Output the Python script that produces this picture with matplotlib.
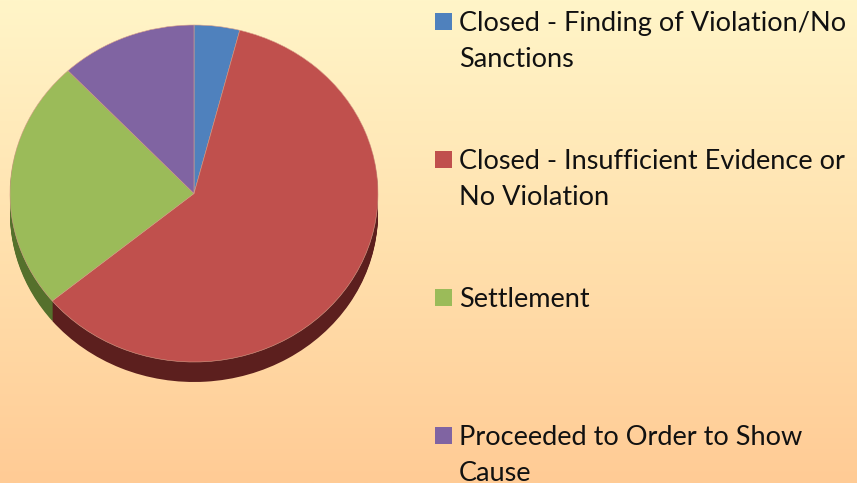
import numpy as np
import matplotlib
matplotlib.use("Agg")
from matplotlib import pyplot as plt
from matplotlib.colors import LinearSegmentedColormap
from matplotlib.patches import Rectangle

labels = [
    "Closed - Finding of Violation/No\nSanctions",
    "Closed - Insufficient Evidence or\nNo Violation",
    "Settlement",
    "Proceeded to Order to Show\nCause",
]
shares = [4, 60, 24, 12]
top_colors = ["#4F81BD", "#C0504D", "#9BBB59", "#8064A2"]
side_colors = ["#2a4566", "#5c1f1e", "#55702c", "#45325a"]

W, H = 857, 483
fig = plt.figure(figsize=(W / 100, H / 100), dpi=100)

# background gradient
bg = fig.add_axes([0, 0, 1, 1])
bg.set_axis_off()
cmap = LinearSegmentedColormap.from_list("bg", ["#FFF5C8", "#FFE1AE", "#FFCB95"])
grad = np.linspace(0, 1, 256).reshape(-1, 1)
bg.imshow(grad, cmap=cmap, aspect="auto", extent=[0, 1, 0, 1], origin="upper")
bg.set_xlim(0, 1)
bg.set_ylim(0, 1)

# pie geometry (pixels)
px_left, px_width = 10, 368
face_top, face_h = 25, 337
depth = 20
semi_y = face_h / 2
ax = fig.add_axes([px_left / W, (H - face_top - face_h - depth) / H,
                   px_width / W, (face_h + depth) / H])

# side wall: stacked darker pies
for k in range(depth, 0, -1):
    ax.pie(shares, colors=side_colors, startangle=90, counterclock=False,
           center=(0, -k / semi_y), radius=1,
           wedgeprops=dict(linewidth=0, antialiased=True))
ax.pie(shares, colors=top_colors, startangle=90, counterclock=False,
       center=(0, 0), radius=1, wedgeprops=dict(linewidth=0.4, edgecolor="#d9a08a"))
ax.set_aspect("auto")
ax.set_xlim(-1, 1)
ax.set_ylim(-1 - depth / semi_y, 1)
ax.set_axis_off()

# legend drawn in pixel coordinates
lg = fig.add_axes([0, 0, 1, 1])
lg.set_xlim(0, W)
lg.set_ylim(H, 0)
lg.set_axis_off()
lg.patch.set_alpha(0)
for i, (lab, col) in enumerate(zip(labels, top_colors)):
    base = 31 + i * 138
    lg.add_patch(Rectangle((435, base - 18), 17, 17, facecolor=col, edgecolor="none"))
    for j, line in enumerate(lab.split("\n")):
        lg.text(459, base + j * 36, line, fontsize=19.5, family="Lato",
                color="#111111", va="baseline", ha="left")

fig.savefig("out.png", dpi=100)
